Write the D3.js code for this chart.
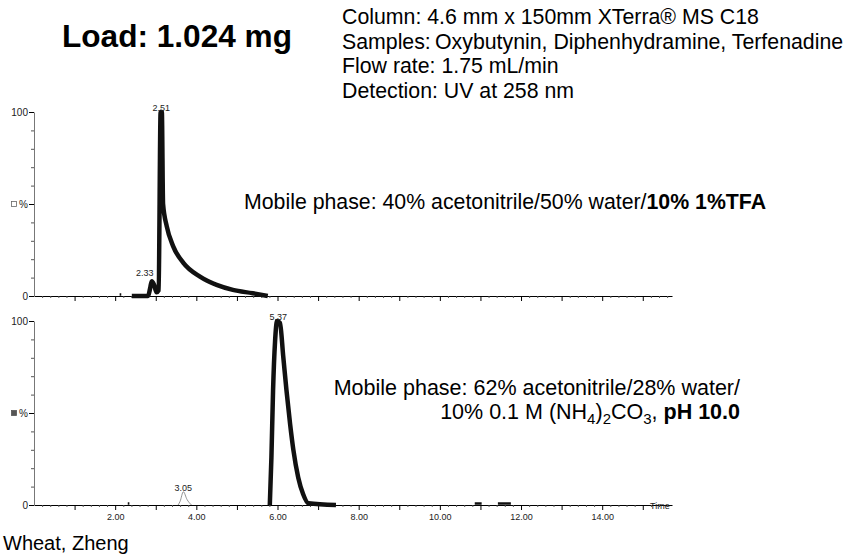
<!DOCTYPE html>
<html>
<head>
<meta charset="utf-8">
<script src="https://cdn.jsdelivr.net/npm/d3@7"></script>
<style>
  body { margin: 0; background: #fff; }
  text { font-family: "Liberation Sans", Arial, Helvetica, sans-serif; }
</style>
</head>
<body>
<script>
var width = 848,
    height = 556;

// top run (TFA) - retention time (min) / relative intensity (%)
var topTime = [2.41, 2.81, 2.86, 2.90, 2.96, 3.02, 3.07, 3.12, 3.15, 3.18, 3.27, 3.43, 3.68, 4.09, 4.50, 4.90, 5.39, 5.76];
var topInt  = [0,    0,    4,    8,    6,    2,    3,    100,  100,  50,   38,   27,   18,   10.5, 6,    3.3,  1.5,  0];

// bottom run (pH 10)
var botTime = [5.81, 5.85, 5.89, 5.94, 5.99, 6.06, 6.14, 6.22, 6.31, 6.39, 6.51, 6.63, 6.76, 7.44];
var botInt  = [0,    26,   62,   89,   100,  99,   81,   62.5, 44,   30,   15,   6,    1,    0];

// small thin peak in the bottom run
var smallTime = [3.55, 3.60, 3.68, 3.77, 3.88];
var smallInt  = [0,    2,    7.2,  3,    0];

// short baseline fragments
var topBlips = [[2.11, 2.15]];
var botBlips = [[2.31, 2.35], [10.86, 11.03], [11.43, 11.75]];

// peak labels
var topPeaks = [{label: "2.33", t: 2.90, v: 8, dx: -7, dy: -5}, {label: "2.51", t: 3.135, v: 100, dx: 0, dy: -1}];
var botPeaks = [{label: "3.05", t: 3.68, v: 7.2, dx: 0, dy: -1}, {label: "5.37", t: 6.02, v: 100, dx: 0, dy: -1}];

var xLabels = [2, 4, 6, 8, 10, 12, 14];

var infoLines = [
  "Column: 4.6 mm x 150mm XTerra\u00AE MS C18",
  "Samples:\u2009Oxybutynin, Diphenhydramine, Terfenadine",
  "Flow rate: 1.75 mL/min",
  "Detection: UV at 258 nm"
];

var svg = d3.select("body").append("svg")
    .attr("width", width)
    .attr("height", height);

var x = d3.scaleLinear().domain([0, 15.72]).range([34, 672]);

// *****
// ONE PANEL
// *****
function panel(y0, y1, traceT, traceV, blips, peaks, marker, showLabels) {
  var y = d3.scaleLinear().domain([0, 100]).range([y0, y1]);
  var g = svg.append("g");

  // x axis: minor every 0.2, major every 1
  var minor = d3.range(1, 79).map(function(i) { return i / 5; }).filter(function(d) { return d % 1 !== 0; });
  g.append("g")
    .attr("transform", "translate(0," + y0 + ")")
    .call(d3.axisBottom(x).tickValues(minor).tickSize(2).tickSizeOuter(0).tickFormat(""))
    .call(function(a) { a.select(".domain").attr("stroke", "#000"); a.selectAll(".tick line").attr("stroke", "#555"); });

  var major = d3.range(1, 16);
  var xa = g.append("g")
    .attr("transform", "translate(0," + y0 + ")")
    .call(d3.axisBottom(x).tickValues(major).tickSize(5).tickSizeOuter(0).tickPadding(4)
      .tickFormat(function(d) { return showLabels && xLabels.indexOf(d) >= 0 ? d.toFixed(2) : ""; }));
  xa.select(".domain").remove();
  xa.selectAll("text").attr("font-size", 9).attr("fill", "#222")
    .attr("font-family", "'Liberation Sans', Arial, sans-serif");

  // y axis
  var ya = g.append("g")
    .attr("transform", "translate(34,0)")
    .call(d3.axisLeft(y).tickValues(d3.range(0, 101, 10)).tickSize(3).tickSizeOuter(0).tickFormat(""));
  ya.select(".domain").attr("stroke", "#777");
  ya.selectAll(".tick line").attr("stroke", "#555");

  var ym = g.append("g")
    .attr("transform", "translate(34,0)")
    .call(d3.axisLeft(y).tickValues([0, 50, 100]).tickSize(5).tickPadding(1)
      .tickFormat(function(d) { return d === 50 ? "%" : d; }));
  ym.select(".domain").remove();
  ym.selectAll("text").attr("font-size", 10).attr("fill", "#222")
    .attr("font-family", "'Liberation Sans', Arial, sans-serif");

  g.append("rect")
    .attr("x", 11.5).attr("y", y(50) - 2.5)
    .attr("width", 5).attr("height", 5)
    .attr("fill", marker ? "#555" : "#fff")
    .attr("stroke", marker ? "#555" : "#666")
    .attr("stroke-width", 0.8);

  // trace
  var line = d3.line()
    .x(function(d) { return x(d[0]); })
    .y(function(d) { return y(d[1]); })
    .curve(d3.curveMonotoneX);

  g.append("path")
    .datum(d3.zip(traceT, traceV))
    .attr("fill", "none")
    .attr("stroke", "#111")
    .attr("stroke-width", 4.5)
    .attr("stroke-linejoin", "round")
    .attr("d", line);

  g.selectAll("line.blip")
    .data(blips)
    .enter().append("line")
    .attr("class", "blip")
    .attr("x1", function(d) { return x(d[0]); })
    .attr("x2", function(d) { return x(d[1]); })
    .attr("y1", y(0) - 1.5)
    .attr("y2", y(0) - 1.5)
    .attr("stroke", "#111")
    .attr("stroke-width", 2.5);

  g.selectAll("text.peak")
    .data(peaks)
    .enter().append("text")
    .attr("class", "peak")
    .attr("x", function(d) { return x(d.t) + d.dx; })
    .attr("y", function(d) { return y(d.v) + d.dy; })
    .attr("text-anchor", "middle")
    .attr("font-size", 9)
    .attr("fill", "#222")
    .text(function(d) { return d.label; });

  return y;
}

var yTop = panel(296, 112, topTime, topInt, topBlips, topPeaks, false, false);
var yBot = panel(505, 321, botTime, botInt, botBlips, botPeaks, true, true);

// thin minor peak
svg.append("path")
  .datum(d3.zip(smallTime, smallInt))
  .attr("fill", "none")
  .attr("stroke", "#777")
  .attr("stroke-width", 0.8)
  .attr("d", d3.line()
    .x(function(d) { return x(d[0]); })
    .y(function(d) { return yBot(d[1]); })
    .curve(d3.curveMonotoneX));

svg.append("text")
  .attr("x", 650).attr("y", 508.5)
  .attr("font-size", 9).attr("fill", "#222")
  .text("Time");

// HEADER
svg.append("text")
  .attr("x", 62).attr("y", 47)
  .attr("font-size", 31.6).attr("font-weight", "bold")
  .text("Load: 1.024 mg");

svg.selectAll("text.info")
  .data(infoLines)
  .enter().append("text")
  .attr("class", "info")
  .attr("x", 342)
  .attr("y", function(d, i) { return 24 + i * 24.5; })
  .attr("font-size", 21.3)
  .text(function(d) { return d; });

// mobile phase notes
var mp1 = svg.append("text")
  .attr("x", 244).attr("y", 209)
  .attr("font-size", 21.3);
mp1.append("tspan").text("Mobile phase: 40% acetonitrile/50% water/");
mp1.append("tspan").attr("font-weight", "bold").text("10% 1%TFA");

svg.append("text")
  .attr("x", 740).attr("y", 395)
  .attr("text-anchor", "end")
  .attr("font-size", 21.5)
  .text("Mobile phase: 62% acetonitrile/28% water/");

var mp2 = svg.append("text")
  .attr("x", 740).attr("y", 419)
  .attr("text-anchor", "end")
  .attr("font-size", 21.5);
mp2.append("tspan").text("10% 0.1 M (NH");
mp2.append("tspan").attr("font-size", 15).attr("dy", 5).text("4");
mp2.append("tspan").attr("dy", -5).text(")");
mp2.append("tspan").attr("font-size", 15).attr("dy", 5).text("2");
mp2.append("tspan").attr("dy", -5).text("CO");
mp2.append("tspan").attr("font-size", 15).attr("dy", 5).text("3");
mp2.append("tspan").attr("dy", -5).text(", ");
mp2.append("tspan").attr("font-weight", "bold").text("pH 10.0");

svg.append("text")
  .attr("x", 3).attr("y", 550)
  .attr("font-size", 20)
  .text("Wheat, Zheng");
</script>
</body>
</html>
